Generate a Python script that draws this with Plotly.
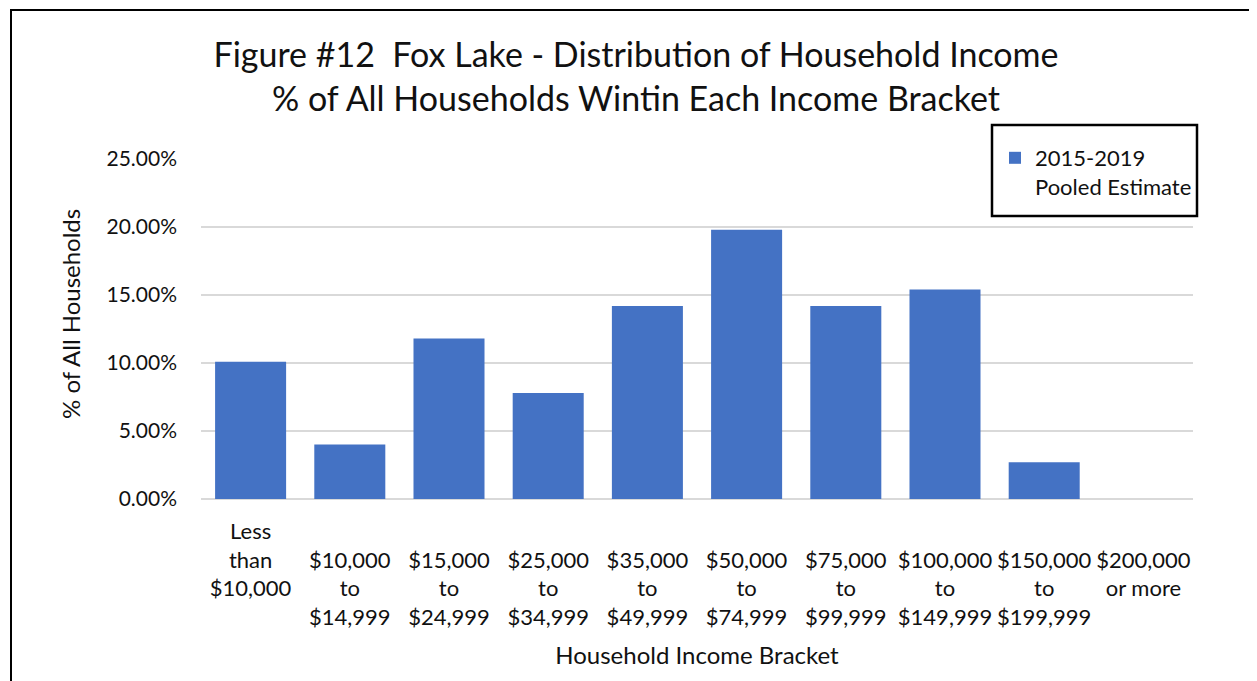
import plotly.graph_objects as go

categories = [
    "Less than $10,000", "$10,000 to $14,999", "$15,000 to $24,999",
    "$25,000 to $34,999", "$35,000 to $49,999", "$50,000 to $74,999",
    "$75,000 to $99,999", "$100,000 to $149,999", "$150,000 to $199,999",
    "$200,000 or more",
]
tick_labels = [
    "Less<br>than<br>$10,000",
    " <br>$10,000<br>to<br>$14,999",
    " <br>$15,000<br>to<br>$24,999",
    " <br>$25,000<br>to<br>$34,999",
    " <br>$35,000<br>to<br>$49,999",
    " <br>$50,000<br>to<br>$74,999",
    " <br>$75,000<br>to<br>$99,999",
    " <br>$100,000<br>to<br>$149,999",
    " <br>$150,000<br>to<br>$199,999",
    " <br>$200,000<br>or more",
]
share_2015_2019 = [0.101, 0.040, 0.118, 0.078, 0.142, 0.198, 0.142, 0.154, 0.027, 0.0]
series_name = "2015-2019<br>Pooled Estimate"
y_ticks = [0.0, 0.05, 0.10, 0.15, 0.20, 0.25]
y_title = "% of All Households"

FONT = "Lato"
TXT = "#111111"

# page body has an 8px default margin; figure coordinates are page coords - 8
W, H = 1249, 673
PL, PR, PT, PB = 193, 1185, 151, 491
PW, PH = PR - PL, PB - PT


def px(xp):
    return (xp - 8 - PL) / PW


def py(yp):
    return (PB - (yp - 8)) / PH


fig = go.Figure()
fig.add_trace(go.Bar(
    x=categories, y=share_2015_2019, name=series_name,
    marker=dict(color="#4472C4", line=dict(width=0)),
    showlegend=True,
))

fig.update_layout(
    width=W, height=H,
    margin=dict(l=PL, r=W - PR, t=PT, b=H - PB, autoexpand=False),
    paper_bgcolor="white", plot_bgcolor="white",
    font=dict(family=FONT, color=TXT, size=21),
    bargap=0.284,
    title=dict(
        text="Figure #12  Fox Lake - Distribution of Household Income<br>% of All Households Wintin Each Income Bracket",
        x=(636 - 8) / W, xanchor="center", xref="container",
        y=1 - (67 - 8) / H, yanchor="middle", yref="container",
        font=dict(family=FONT, size=34, color=TXT),
    ),
    showlegend=True,
    legend=dict(
        x=px(995), xanchor="left",
        y=py(137), yanchor="top",
        bgcolor="rgba(0,0,0,0)", borderwidth=0,
        font=dict(family=FONT, size=22, color=TXT),
        valign="top",
    ),
    xaxis=dict(
        tickmode="array", tickvals=categories, ticktext=tick_labels,
        showgrid=False, showline=False, zeroline=False,
        ticks="", ticklabelstandoff=17,
        tickfont=dict(family=FONT, size=22, color=TXT),
        tickangle=0,
        title=dict(text="Household Income Bracket", standoff=18,
                   font=dict(family=FONT, size=24, color=TXT)),
    ),
    yaxis=dict(
        range=[0, 0.25], tickmode="array", tickvals=y_ticks,
        tickformat=".2%",
        showgrid=True, gridcolor="#D9D9D9", gridwidth=1.5,
        zeroline=True, zerolinecolor="#D9D9D9", zerolinewidth=1.5,
        showline=False, ticks="", ticklabelstandoff=23,
        tickfont=dict(family=FONT, size=21, color=TXT),
    ),
    annotations=[
        dict(text=y_title, textangle=-90, showarrow=False,
             xref="paper", yref="paper", x=px(70), y=py(314),
             xanchor="center", yanchor="middle",
             font=dict(family=FONT, size=24, color=TXT)),
    ],
    shapes=[
        # outer chart border
        dict(type="rect", xref="paper", yref="paper",
             x0=px(11), x1=1.2, y0=-0.8, y1=py(10),
             line=dict(color="black", width=2), fillcolor="rgba(0,0,0,0)", layer="above"),
        # legend frame
        dict(type="rect", xref="paper", yref="paper",
             x0=px(992), x1=px(1197),
             y0=py(216), y1=py(125),
             line=dict(color="black", width=2.5), fillcolor="white", layer="below"),
    ],
)

fig.write_html("out.html")
